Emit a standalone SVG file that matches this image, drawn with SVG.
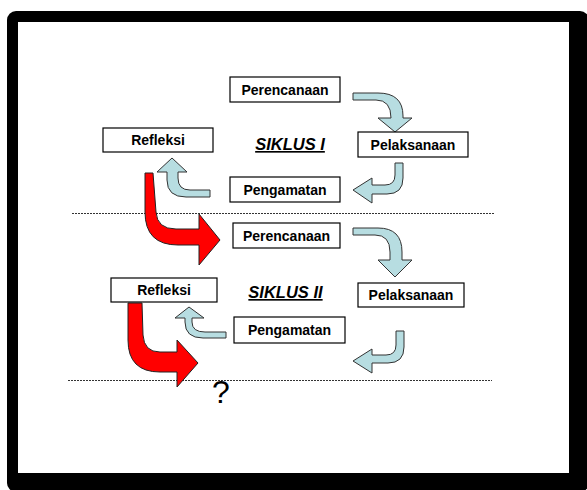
<svg xmlns="http://www.w3.org/2000/svg" width="587" height="490" viewBox="0 0 587 490">
<style>
.box{fill:#fff;stroke:#000;stroke-width:1.2}
.lbl{font-family:"Liberation Sans",Arial,sans-serif;font-weight:bold;font-size:14px;text-anchor:middle;fill:#000}
.title{font-family:"Liberation Sans",Arial,sans-serif;font-weight:bold;font-style:italic;font-size:16.5px;text-anchor:middle;text-decoration:underline;fill:#000}
.blue{fill:#B7DDE1;stroke:#333;stroke-width:1}
.red{fill:#FF0000;stroke:#222;stroke-width:1}
.dot{stroke:#333;stroke-width:1;stroke-dasharray:2 1;fill:none}
</style>
<rect x="0" y="0" width="587" height="490" fill="#fff"/>
<g id="frame">
<rect x="7" y="11" width="582" height="481" rx="9" fill="#000"/>
<rect x="18" y="22" width="551" height="451" fill="#fff"/>
</g>
<g id="separators">
<line class="dot" x1="72" y1="213.5" x2="495" y2="213.5"/>
<line class="dot" x1="68" y1="380.5" x2="492" y2="380.5"/>
</g>
<g id="connectors">
<path class="blue" d="M353,93 L378,93 Q403,93 403,116 L403,118 L412,118 L395,132 L378,118 L391,118 Q391,100 376,100 L353,100 Z"/>
<path class="blue" d="M395,163 L403,163 L403,178 Q403,194 387,194 L372,194 L372,203 L353,190 L372,178 L372,185 L385,185 Q395,185 395,175 Z"/>
<path class="blue" d="M210,190 L190,190 Q178,190 178,178 L178,172 L187,172 L172,158 L157,172 L167,172 L167,180 Q167,197 186,197 L210,197 Z"/>
<path class="red" d="M145,173 L153,173 L156,212 Q157,229 176,229 L199,229 L199,214 L220,240 L199,265 L199,245 L178,245 Q145,245 145,212 Z"/>
<path class="blue" d="M353,228 L378,228 Q402,228 402,252 L402,260 L412,260 L395,277 L378,260 L390,260 L390,252 Q390,235 375,235 L353,235 Z"/>
<path class="blue" d="M396,331 L404,331 L404,347 Q404,363 388,363 L372,363 L372,373 L353,361 L372,349 L372,355 L386,355 Q396,355 396,345 Z"/>
<path class="blue" d="M226,332 L205,332 Q192,332 192,322 L192,318 L204,318 L189,307 L175,318 L185,318 L185,322 Q185,338 203,338 L226,338 Z"/>
<path class="red" d="M128,303 L142,303 L143,335 Q144,352 160,352 L177,352 L177,340 L198,363 L177,387 L177,372 L160,372 Q128,372 128,340 Z"/>
</g>
<g id="perencanaan1"><rect class="box" x="230" y="77" width="110" height="25"/><text class="lbl" x="285" y="94.5">Perencanaan</text></g>
<g id="refleksi1"><rect class="box" x="103" y="128" width="110" height="24"/><text class="lbl" x="158" y="145">Refleksi</text></g>
<g id="siklus1"><text class="title" x="290" y="150">SIKLUS I</text></g>
<g id="pelaksanaan1"><rect class="box" x="358" y="132" width="110" height="25"/><text class="lbl" x="413" y="149.5">Pelaksanaan</text></g>
<g id="pengamatan1"><rect class="box" x="230" y="177" width="110" height="25"/><text class="lbl" x="285" y="194.5">Pengamatan</text></g>
<g id="perencanaan2"><rect class="box" x="233" y="223" width="107" height="25"/><text class="lbl" x="286.5" y="240.5">Perencanaan</text></g>
<g id="refleksi2"><rect class="box" x="111" y="278" width="106" height="24"/><text class="lbl" x="164" y="295">Refleksi</text></g>
<g id="siklus2"><text class="title" x="285.5" y="298">SIKLUS II</text></g>
<g id="pelaksanaan2"><rect class="box" x="358" y="283" width="106" height="24"/><text class="lbl" x="411" y="300">Pelaksanaan</text></g>
<g id="pengamatan2"><rect class="box" x="234" y="317" width="111" height="26"/><text class="lbl" x="289.5" y="335">Pengamatan</text></g>
<g id="question"><text x="221" y="403" font-family="Liberation Sans,Arial,sans-serif" font-size="32" text-anchor="middle" fill="#000">?</text></g>
</svg>
